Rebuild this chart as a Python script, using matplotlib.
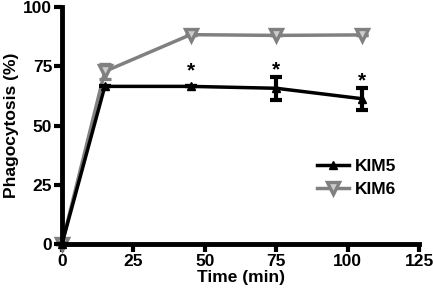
import matplotlib
matplotlib.use("Agg")
import matplotlib.pyplot as plt
from matplotlib.lines import Line2D

plt.rcParams['font.family'] = ['Liberation Sans', 'DejaVu Sans']
plt.rcParams['font.weight'] = 'bold'

# 数据
time = [0, 15, 45, 75, 105]
kim5 = [0, 66.5, 66.5, 65.7, 61.3]
kim5_err = [0, 0, 0, 4.8, 4.6]
kim6 = [0, 72.8, 88.3, 88.0, 88.2]
kim6_err = [0, 3.2, 0, 0, 0]
star_t = [45, 75, 105]
star_y = [69.0, 69.5, 65.0]

grey = '#808080'
fig = plt.figure(figsize=(4.33, 3.01), dpi=100)
ax = fig.add_axes([0.143, 0.189, 0.825, 0.788])

ax.errorbar(time, kim6, yerr=kim6_err, color=grey, lw=2.5, marker='v',
            ms=9, mfc='#cccccc', mec=grey, mew=2.4, capsize=4, capthick=2.5,
            elinewidth=2.5, zorder=2)
ax.errorbar(time, kim5, yerr=kim5_err, color='black', lw=2.5, marker='^',
            ms=6, capsize=4.5, capthick=3, elinewidth=3, zorder=3)

for t, y in zip(star_t, star_y):
    ax.text(t, y, '*', ha='center', va='bottom', fontsize=15, fontweight='bold')

ax.set_xlim(0, 125)
ax.set_ylim(0, 100)
ax.set_xticks([0, 25, 50, 75, 100, 125])
ax.set_yticks([0, 25, 50, 75, 100])
for s in ['top', 'right']:
    ax.spines[s].set_visible(False)
for s in ['left', 'bottom']:
    ax.spines[s].set_linewidth(3.5)
ax.tick_params(width=3, length=6, labelsize=12.5, pad=1)
for lab in ax.get_xticklabels() + ax.get_yticklabels():
    lab.set_fontweight('bold')
ax.set_xlabel('Time (min)', fontsize=12.5, fontweight='bold', labelpad=1)
ax.set_ylabel('Phagocytosis (%)', fontsize=12.5, fontweight='bold', labelpad=3)

handles = [Line2D([], [], color='black', lw=2.5, marker='^', ms=6),
           Line2D([], [], color=grey, lw=2.5, marker='v', ms=8, mfc='#cccccc',
                  mec=grey, mew=2.4)]
leg = ax.legend(handles, ['KIM5', 'KIM6'], loc='center left',
                bbox_to_anchor=(0.715, 0.28), frameon=False, fontsize=12.5,
                handlelength=1.8, handletextpad=0.35, labelspacing=0.45,
                borderaxespad=0, borderpad=0)
for t in leg.get_texts():
    t.set_fontweight('bold')
for c in ax.get_children():
    try:
        c.set_clip_on(False)
    except Exception:
        pass

fig.savefig('out.png', dpi=100)
